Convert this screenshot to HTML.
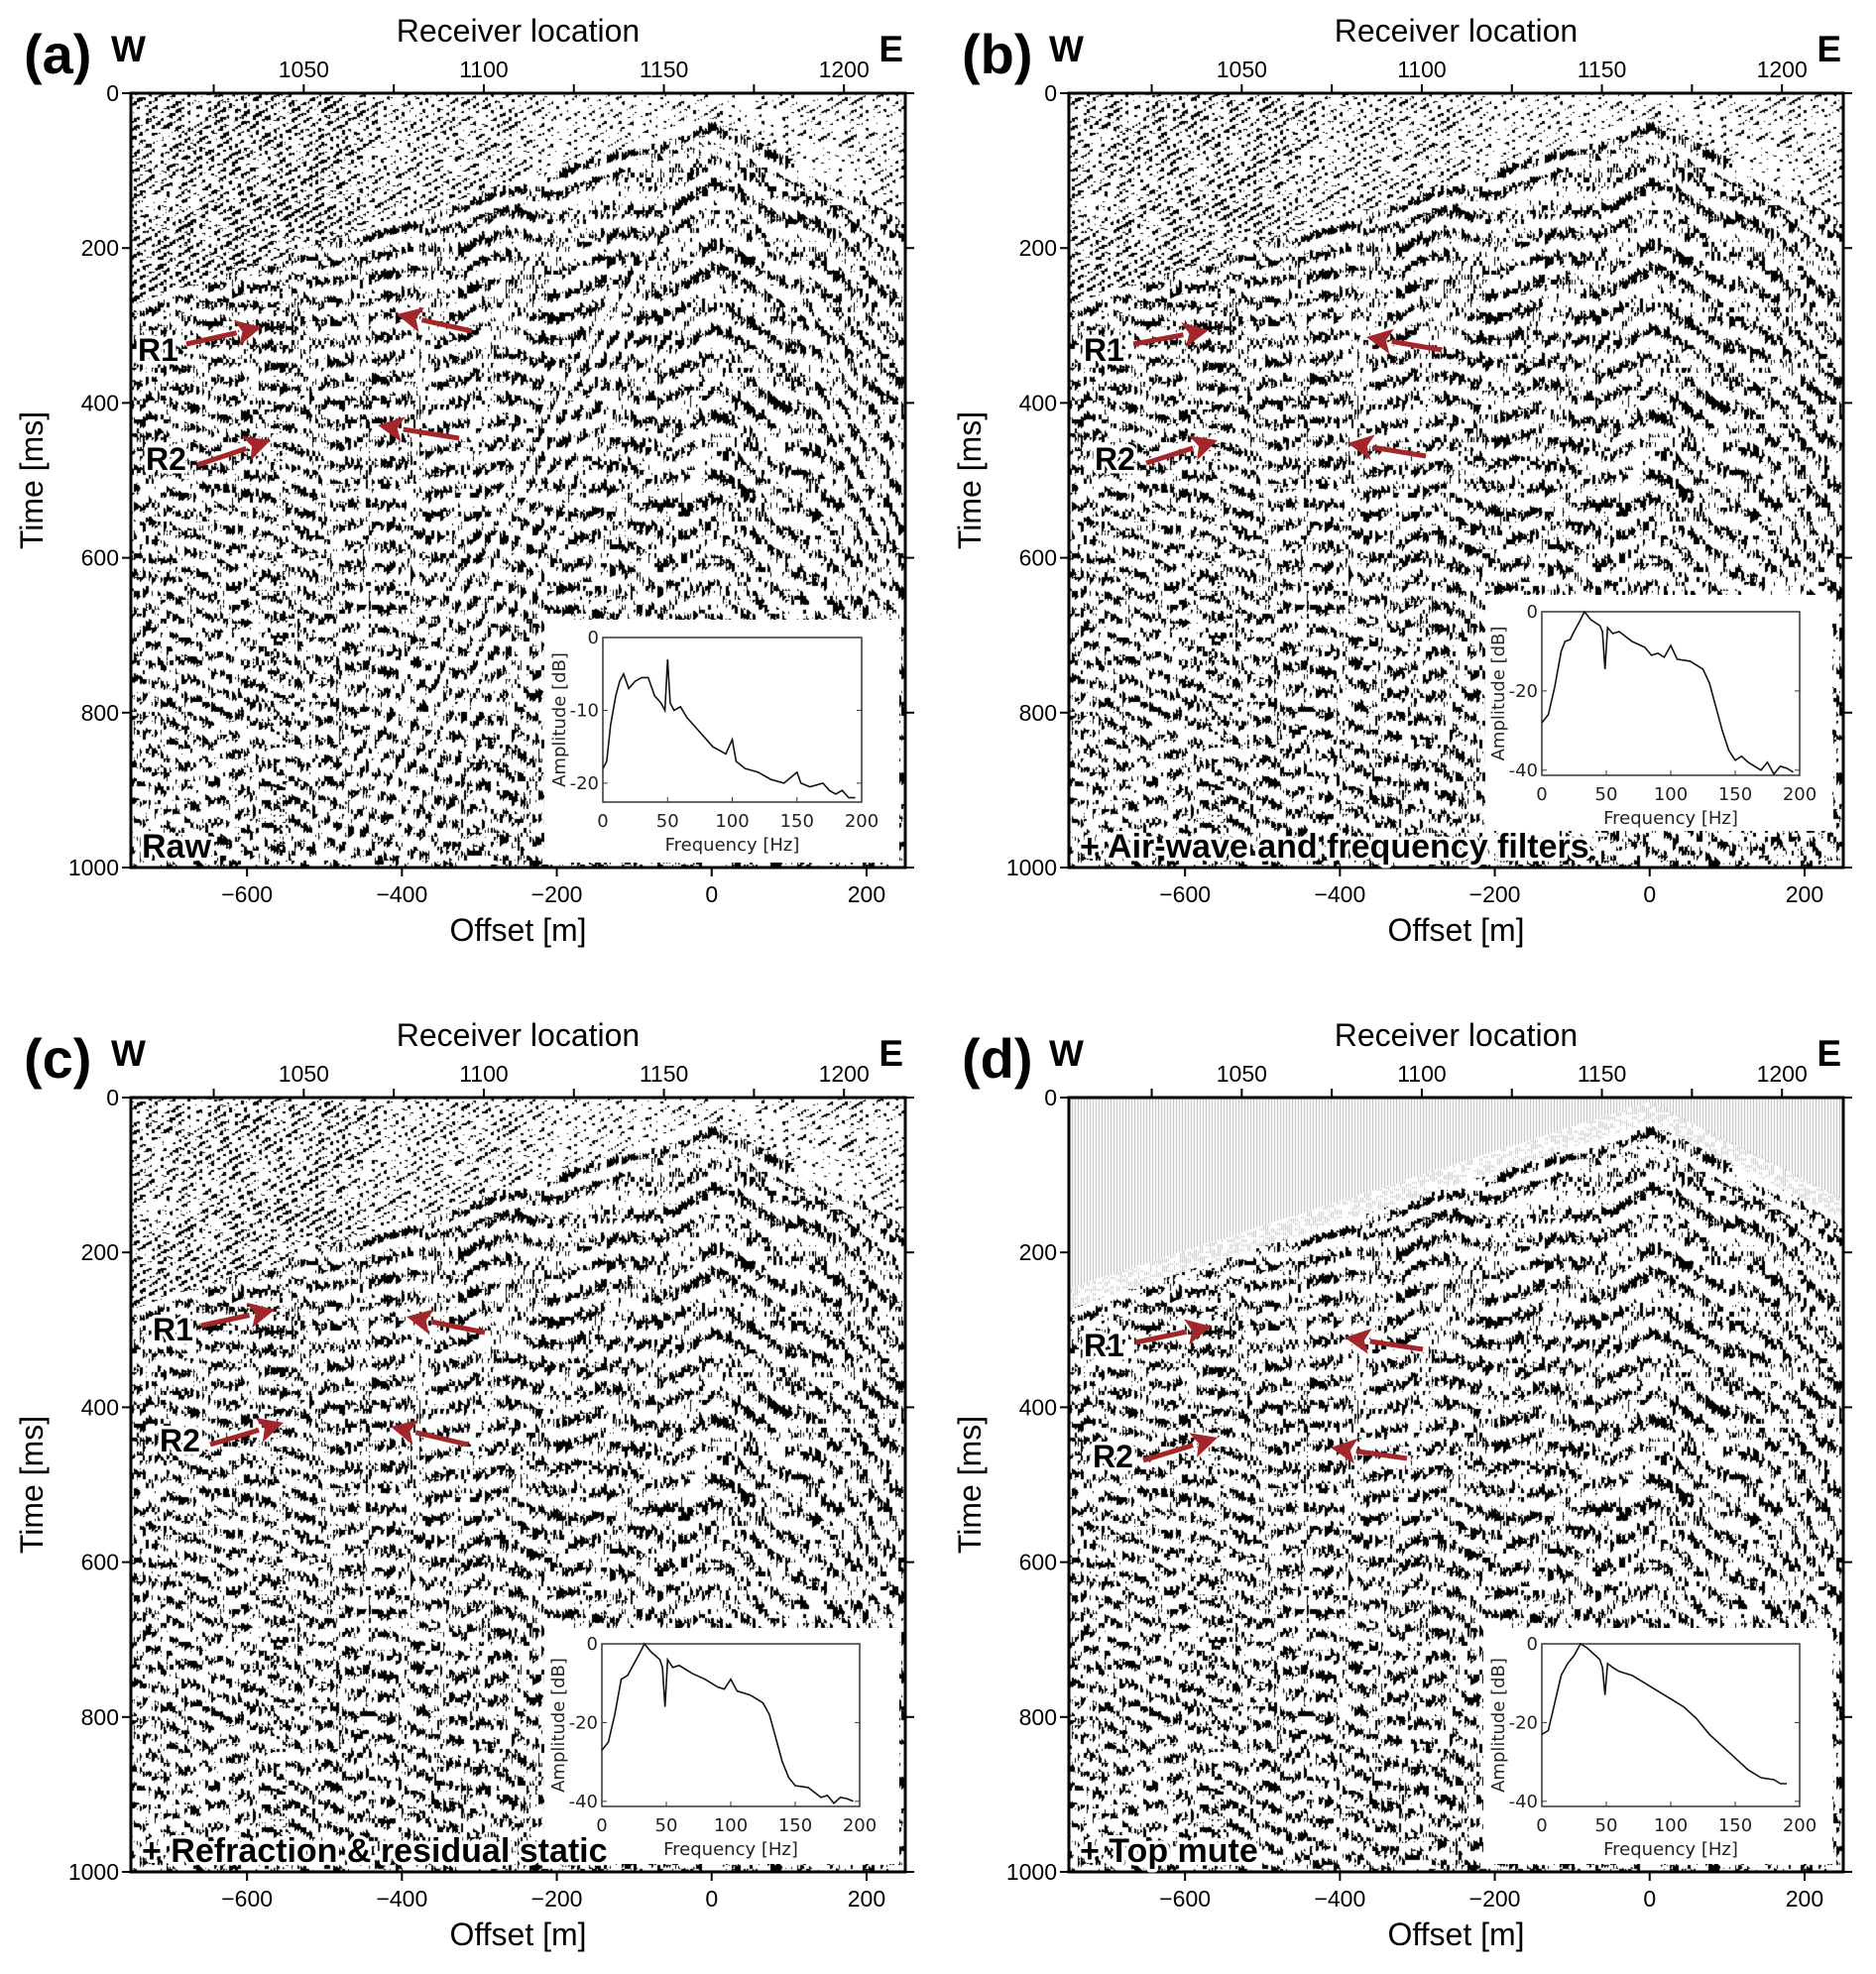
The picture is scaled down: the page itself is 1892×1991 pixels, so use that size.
<!DOCTYPE html>
<html><head><meta charset="utf-8">
<style>
html,body{margin:0;padding:0;background:#fff;}
#wrap{position:relative;width:1892px;height:1991px;overflow:hidden;background:#fff;font-family:"Liberation Sans",sans-serif;}
canvas{position:absolute;}
svg{position:absolute;left:0;top:0;}
</style></head>
<body>
<div id="wrap">
<canvas id="cva" width="781" height="781" style="left:132px;top:94px"></canvas>
<canvas id="cvb" width="781" height="781" style="left:1078px;top:94px"></canvas>
<canvas id="cvc" width="781" height="781" style="left:132px;top:1107px"></canvas>
<canvas id="cvd" width="781" height="781" style="left:1078px;top:1107px"></canvas>
<svg id="ov" width="1892" height="1991"></svg>
</div>
<script>
// ---- spectrum data (frequency Hz, amplitude dB) ----
const freqA=[0,3,6,10,13,16,20,25,30,35,40,45,48,50,52,55,60,65,70,75,80,85,90,95,100,103,110,120,130,140,150,153,160,170,175,180,185,190,195];
const ampA=[-18,-17,-12,-8,-6,-5,-7,-6,-5.5,-5.5,-8,-9,-10,-3,-9,-10,-9.5,-11,-12,-13,-14,-15,-15.5,-16,-14,-17,-18,-18.5,-19.5,-20,-18.5,-20,-20.5,-20,-21,-21.5,-21,-22,-22];
const freqB=[0,5,10,15,18,22,25,30,33,38,45,47,49,51,55,60,70,80,85,90,95,100,105,115,125,130,135,140,145,150,155,160,170,175,180,185,190,195];
const ampB=[-28,-26,-19,-10,-7.5,-7,-5,-2,0,-2,-3.5,-5,-14.5,-4,-5.5,-5,-7.5,-9,-11,-10.5,-11.5,-8.5,-12,-12.5,-14.5,-18,-24,-30,-35,-37.5,-36.5,-38,-40,-38,-41,-39,-39.5,-40.5];
const freqC=[0,5,10,15,20,25,30,33,38,45,47,49,51,55,60,70,80,90,95,100,105,115,125,130,135,140,145,150,160,170,175,180,185,190,195];
const ampC=[-27,-25,-18,-9,-8,-5,-2,0,-2,-4,-6,-16,-4,-6,-5.5,-7.5,-9,-11,-11.5,-9,-12,-13,-15,-18,-24,-30,-34,-36,-36.5,-39,-38.5,-40.5,-39,-39.3,-40];
const freqD=[0,5,10,15,20,25,30,35,40,45,47,49,51,55,60,70,80,90,100,110,120,130,140,150,160,170,180,185,190];
const ampD=[-23,-22,-15,-8,-5,-3,0,-1,-2.5,-4,-6,-13,-5,-6,-7,-8,-10,-12,-14,-16,-19,-23,-26,-29,-32,-34,-34.5,-35.5,-35.5];
// axis ticks
const offsetTicks=[-600,-400,-200,0,200];
const timeTicks=[0,200,400,600,800,1000];
const recvTicks=[1050,1100,1150,1200];
const freqTicks=[0,50,100,150,200];
const dbTicksA=[0,-10,-20];
const dbTicks=[0,-20,-40];

const NS="http://www.w3.org/2000/svg";
const ov=document.getElementById('ov');
function el(tag,attrs,parent,txt){const e=document.createElementNS(NS,tag);for(const k in attrs)e.setAttribute(k,attrs[k]);if(txt!==undefined)e.textContent=txt;(parent||ov).appendChild(e);return e;}

// ---------- seismic texture ----------
function h(a,b){let n=Math.imul(a,374761393)+Math.imul(b,668265263)|0;n=Math.imul(n^(n>>>13),1274126177);return ((n^(n>>>16))>>>0)/4294967296;}
function tfaOf(off){return off<0?40+(-off)*0.32:40+off*0.5;}
function drawSeis(id,mode){
  const cv=document.getElementById(id),ctx=cv.getContext('2d');
  const W=781,H=781,img=ctx.createImageData(W,H),d=img.data;
  const tw=3;
  for(let x=0;x<W;x++){
    const k=Math.floor(x/tw),frac=(x%tw)/tw;
    const off=-750+(k*tw+1)/W*1000;
    const tfa=tfaOf(off);
    const stat=(h(k,7)-0.5)*10+8*Math.sin(off/60)+6*Math.sin(off/23+1);
    for(let y=0;y<H;y++){
      const t=y/H*1000;
      let c=255;
      if(t<tfa-8){
        if(mode==='d'){
          if(t>tfa-35){c=(x%2===0&&h(k,Math.floor(t/3))>0.5)?200:255;}
          else c=(frac===0)?185:255;
        }else{
          let dens;
          if(mode==='a')dens=off<-450?0.5:(off<-250?0.32:0.16);
          else dens=off<-450?0.42:(off<-250?0.28:0.16);
          const v=0.5*Math.sin(2*Math.PI*t/11+k*1.3)+(h(k,Math.floor(t/5))-0.5)*1.4;
          if(v>1-dens-frac*0.3)c=0;
        }
      }else{
        const tt=t+stat;
        const curv=20*Math.sin((off+750)/180)+0.0008*(t)*(off+100);
        const s1=Math.sin(2*Math.PI*(tt-0.55*tfa-curv)/34);
        const s2=Math.sin(2*Math.PI*(tt-0.85*tfa)/27);
        let v=0.5*s1+0.4*s2+(h(k,Math.floor(t/6))-0.5)*1.5;
        if(mode==='a'){
          const ao=Math.abs(off);
          const gr=(t>40+ao*1.7&&t<40+ao*2.7)?1:0;
          const g=Math.sin(2*Math.PI*(t-40-ao*2.1)/40);
          v=v*(gr?0.8:1)+g*0.45*gr;
        }
        if(t<tfa+25)v+=0.5*Math.sin(2*Math.PI*(t-tfa)/20);
        if(Math.abs(off+560)<12)v+=(h(k,Math.floor(t/4))-0.5)*1.6;
        if(v>0.28+frac*0.55)c=0;
      }
      const i=(y*W+x)*4;d[i]=d[i+1]=d[i+2]=c;d[i+3]=255;
    }
  }
  ctx.putImageData(img,0,0);
}
drawSeis('cva','a');drawSeis('cvb','b');drawSeis('cvc','c');drawSeis('cvd','d');

// ---------- panel decorations ----------
const panels=[
 {id:'a',x:132,y:94,letter:'(a)',label:'Raw',
  spec:{box:[549,625,358,245],ax:[608,643,261,166],ymin:-22.6,ticks:dbTicksA,f:freqA,a:ampA},
  r1:[163,352],r2:[171,462],arrows:[[188,347,264,330],[476,334,400,317],[199,469,273,444],[463,442,381,429]]},
 {id:'b',x:1078,y:94,letter:'(b)',label:'+ Air-wave and frequency filters',
  spec:{box:[1498,600,350,238],ax:[1555,617,260,165],ymin:-41.3,ticks:dbTicks,f:freqB,a:ampB},
  r1:[1117,352],r2:[1128,462],arrows:[[1143,347,1219,333],[1454,353,1378,340],[1156,467,1228,444],[1438,460,1359,447]]},
 {id:'c',x:132,y:1107,letter:'(c)',label:'+ Refraction & residual static',
  spec:{box:[549,1642,358,238],ax:[607,1658,260,164],ymin:-41.3,ticks:dbTicks,f:freqC,a:ampC},
  r1:[178,1340],r2:[185,1452],arrows:[[203,1337,277,1321],[489,1344,410,1328],[212,1457,286,1435],[472,1457,394,1439]]},
 {id:'d',x:1078,y:1107,letter:'(d)',label:'+ Top mute',
  spec:{box:[1496,1642,352,238],ax:[1555,1658,260,164],ymin:-41.3,ticks:dbTicks,f:freqD,a:ampD},
  r1:[1117,1356],r2:[1126,1468],arrows:[[1145,1354,1222,1338],[1435,1361,1356,1349],[1153,1473,1228,1450],[1419,1471,1342,1460]]}
];
const S=781;
panels.forEach(p=>{
  const g=el('g',{});
  
  
  const xs=v=>p.x+(v+750)/1000*S;
  const ys=v=>p.y+v/1000*S;
  const xrec=r=>p.x+(r-1002)*2.86*1.27;
  const fr=el('rect',{x:p.x,y:p.y,width:S,height:S,fill:'none',stroke:'#000','stroke-width':3},g);
  
  
  timeTicks.forEach(v=>{
    el('line',{x1:p.x-9,x2:p.x,y1:ys(v),y2:ys(v),stroke:'#000','stroke-width':2},g);
    el('line',{x1:p.x+S,x2:p.x+S+9,y1:ys(v),y2:ys(v),stroke:'#000','stroke-width':2},g);
    const t=el('text',{x:p.x-12,y:ys(v)+8,'font-size':23,'text-anchor':'end'},g,v);
    
    
  });
  offsetTicks.forEach(v=>{
    el('line',{x1:xs(v),x2:xs(v),y1:p.y+S,y2:p.y+S+9,stroke:'#000','stroke-width':2},g);
    const t=el('text',{x:xs(v),y:p.y+S+35,'font-size':23,'text-anchor':'middle'},g,v<0?'\u2212'+(-v):v);
    
    
  });
  recvTicks.forEach(v=>{
    const xx=xrec(v);
    el('line',{x1:xx,x2:xx,y1:p.y-9,y2:p.y,stroke:'#000','stroke-width':2},g);
    const t=el('text',{x:xx,y:p.y-16,'font-size':23,'text-anchor':'middle'},g,v);
    
    
  });
  [1025,1075,1125,1175].forEach(v=>{const xx=xrec(v);el('line',{x1:xx,x2:xx,y1:p.y-9,y2:p.y,stroke:'#000','stroke-width':2},g);});
  let t;
  t=el('text',{x:p.x+S/2,y:p.y-52,'font-size':32,'text-anchor':'middle'},g,'Receiver location');
  
  
  t=el('text',{x:p.x+S/2,y:p.y+S+74,'font-size':32,'text-anchor':'middle'},g,'Offset [m]');
  
  
  t=el('text',{x:0,y:0,'font-size':32,'text-anchor':'middle',transform:`translate(${p.x-89},${p.y+S/2}) rotate(-90)`},g,'Time [ms]');
  
  
  t=el('text',{x:p.x-108,y:p.y-20,'font-size':56,'font-weight':'bold'},g,p.letter);
  
  
  t=el('text',{x:p.x-20,y:p.y-32,'font-size':37,'font-weight':'bold'},g,'W');
  
  
  t=el('text',{x:p.x+S-2,y:p.y-32,'font-size':37,'font-weight':'bold','text-anchor':'end'},g,'E');
  
  
  const sp=p.spec;
  const ig=el('g',{},g);
  
  
  el('rect',{x:sp.box[0],y:sp.box[1],width:sp.box[2],height:sp.box[3],fill:'#fff'},ig);
  const [ax,ay,aw,ah]=sp.ax;
  const fx=f=>ax+f/200*aw, fy=v=>ay+(v/sp.ymin)*ah;
  el('rect',{x:ax,y:ay,width:aw,height:ah,fill:'none',stroke:'#333','stroke-width':1.5},ig);
  freqTicks.forEach(f=>{
    el('line',{x1:fx(f),x2:fx(f),y1:ay+ah,y2:ay+ah-5,stroke:'#333','stroke-width':1},ig);
    const tt=el('text',{x:fx(f),y:ay+ah+25,'font-size':18,'font-family':'DejaVu Sans, sans-serif','text-anchor':'middle',fill:'#222'},ig,f);
    
    
  });
  sp.ticks.forEach(v=>{
    el('line',{x1:ax,x2:ax+5,y1:fy(v),y2:fy(v),stroke:'#333','stroke-width':1},ig);
    el('line',{x1:ax+aw,x2:ax+aw-5,y1:fy(v),y2:fy(v),stroke:'#333','stroke-width':1},ig);
    const tt=el('text',{x:ax-4,y:fy(v)+6,'font-size':18,'font-family':'DejaVu Sans, sans-serif','text-anchor':'end',fill:'#222'},ig,v);
    
    
  });
  t=el('text',{x:ax+aw/2,y:ay+ah+49,'font-size':18,'font-family':'DejaVu Sans, sans-serif','text-anchor':'middle',fill:'#222'},ig,'Frequency [Hz]');
  
  
  t=el('text',{x:0,y:0,'font-size':18,'font-family':'DejaVu Sans, sans-serif','text-anchor':'middle',fill:'#222',transform:`translate(${ax-38},${ay+ah/2}) rotate(-90)`},ig,'Amplitude [dB]');
  
  
  const pts=sp.f.map((f,i)=>fx(f).toFixed(1)+','+fy(sp.a[i]).toFixed(1)).join(' ');
  const pl=el('polyline',{points:pts,fill:'none',stroke:'#111','stroke-width':1.6},ig);
  
  
  t=el('text',{x:p.x+11,y:p.y+S-10,'font-size':34,'font-weight':'bold',stroke:'#fff','stroke-width':7,'paint-order':'stroke','stroke-linejoin':'round'},g,p.label);
  
  
  t=el('text',{x:p.r1[0]-24,y:p.r1[1]+12,'font-size':32,'font-weight':'bold',stroke:'#fff','stroke-width':7,'paint-order':'stroke','stroke-linejoin':'round'},g,'R1');
  
  
  t=el('text',{x:p.r2[0]-24,y:p.r2[1]+12,'font-size':32,'font-weight':'bold',stroke:'#fff','stroke-width':7,'paint-order':'stroke','stroke-linejoin':'round'},g,'R2');
  
  
  p.arrows.forEach(a=>{
    const [x1,y1,x2,y2]=a;const dx=x2-x1,dy=y2-y1,L=Math.hypot(dx,dy),ux=dx/L,uy=dy/L;
    const hl=26,hw=13;const bx=x2-ux*hl,by=y2-uy*hl;
    const ag=el('g',{},g);
    
    
    el('line',{x1:x1,y1:y1,x2:bx,y2:by,stroke:'#a3262a','stroke-width':5},ag);
    el('polygon',{points:`${x2},${y2} ${bx-uy*hw},${by+ux*hw} ${bx+ux*6},${by+uy*6} ${bx+uy*hw},${by-ux*hw}`,fill:'#a3262a'},ag);
  });
});
</script>
</body></html>
